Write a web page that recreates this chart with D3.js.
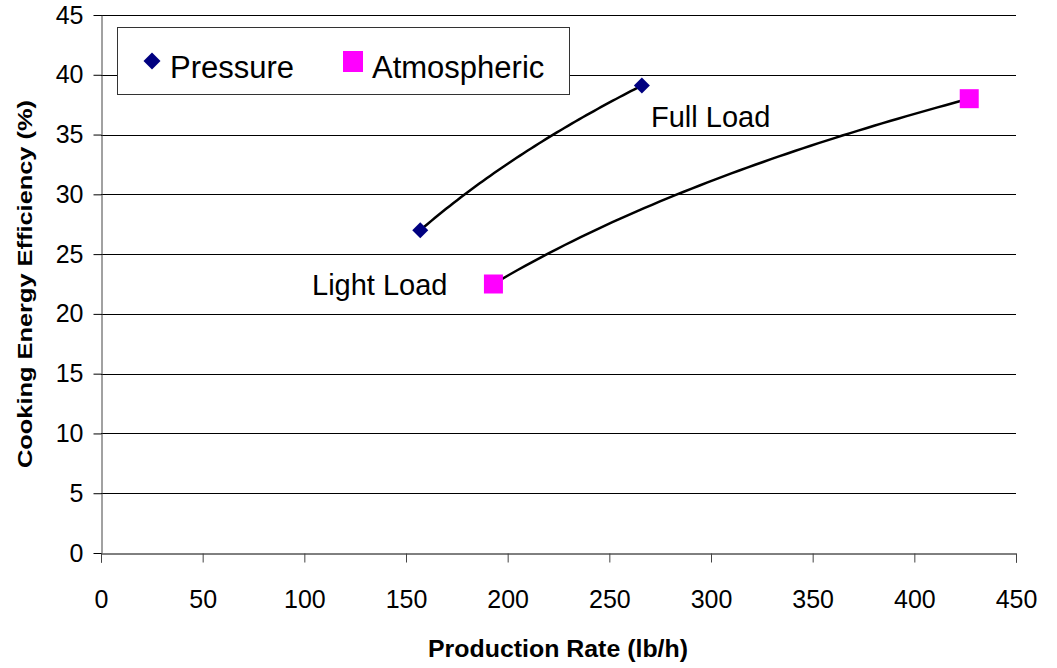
<!DOCTYPE html>
<html>
<head>
  <script src="https://d3js.org/d3.v7.min.js"></script>
  <title>Cooking Energy Efficiency</title>
  <style>
    body { margin: 0; background: #fff; }
    text { font-family: "Liberation Sans", Arial, sans-serif; fill: #000; }
    .tick-label { font-size: 25px; }
    .axis-title { font-weight: bold; }
    .legend-text { font-size: 31px; }
    .note { font-size: 29px; }
  </style>
</head>
<body>
  <div id="chart-container"></div>
<script>
    // data
    var seriesNames = ["Pressure", "Atmospheric"];
    var pressureRate = [157, 266];
    var pressureEff = [27.0, 39.1];
    var atmosRate = [193, 427];
    var atmosEff = [22.5, 38.0];
    var xTicks = [0, 50, 100, 150, 200, 250, 300, 350, 400, 450];
    var yTicks = [0, 5, 10, 15, 20, 25, 30, 35, 40, 45];

    var width = 1057;
    var height = 668;
    var plot = { left: 101, right: 1016, top: 15, bottom: 553 };

    var svg = d3.select("#chart-container")
      .append("svg")
      .attr("width", width)
      .attr("height", height);

    var xScale = d3.scaleLinear()
      .domain([0, 450])
      .range([plot.left, plot.right]);

    var yScale = d3.scaleLinear()
      .domain([0, 45])
      .range([plot.bottom, plot.top]);

    // gridlines
    svg.append("g")
      .selectAll("line")
      .data(yTicks.slice(1))
      .enter().append("line")
      .attr("x1", plot.left)
      .attr("x2", plot.right)
      .attr("y1", function(d) { return Math.round(yScale(d)) + 0.5; })
      .attr("y2", function(d) { return Math.round(yScale(d)) + 0.5; })
      .attr("stroke", "#000")
      .attr("stroke-width", 1);

    // x axis
    var xAxis = d3.axisBottom(xScale)
      .tickValues(xTicks)
      .tickSize(9)
      .tickPadding(28)
      .tickFormat(d3.format("d"));

    var gx = svg.append("g")
      .attr("transform", "translate(0," + (plot.bottom + 0.5) + ")")
      .call(xAxis);
    gx.select(".domain").attr("stroke", "#000");
    gx.selectAll(".tick line").attr("stroke", "#444");
    gx.selectAll(".tick text")
      .attr("class", "tick-label")
      .attr("font-size", null)
      .attr("font-family", null);

    // y axis
    var yAxis = d3.axisLeft(yScale)
      .tickValues(yTicks)
      .tickSize(8)
      .tickSizeOuter(0)
      .tickPadding(10)
      .tickFormat(d3.format("d"));

    var gy = svg.append("g")
      .attr("transform", "translate(" + (plot.left + 0.5) + ",0)")
      .call(yAxis);
    gy.select(".domain").attr("stroke", "#444");
    gy.selectAll(".tick line").attr("stroke", "#000");
    gy.selectAll(".tick text")
      .attr("class", "tick-label")
      .attr("font-size", null)
      .attr("font-family", null);

    // axis titles
    svg.append("text")
      .attr("class", "axis-title")
      .attr("x", 558)
      .attr("y", 657)
      .attr("font-size", 24)
      .attr("text-anchor", "middle")
      .attr("textLength", 260)
      .attr("lengthAdjust", "spacingAndGlyphs")
      .text("Production Rate (lb/h)");

    svg.append("text")
      .attr("class", "axis-title")
      .attr("transform", "translate(32," + 284 + ") rotate(-90)")
      .attr("font-size", 21)
      .attr("text-anchor", "middle")
      .attr("textLength", 368)
      .attr("lengthAdjust", "spacingAndGlyphs")
      .text("Cooking Energy Efficiency (%)");

    // logarithmic trendline through each series
    function logFit(xs, ys) {
      var lx = xs.map(Math.log);
      var mx = d3.mean(lx), my = d3.mean(ys);
      var num = 0, den = 0;
      for (var i = 0; i < xs.length; i++) {
        num += (lx[i] - mx) * (ys[i] - my);
        den += (lx[i] - mx) * (lx[i] - mx);
      }
      var a = num / den;
      var b = my - a * mx;
      var pts = [];
      var x0 = d3.min(xs), x1 = d3.max(xs);
      for (var k = 0; k <= 60; k++) {
        var x = x0 + (x1 - x0) * k / 60;
        pts.push([x, a * Math.log(x) + b]);
      }
      return pts;
    }

    var line = d3.line()
      .x(function(d) { return xScale(d[0]); })
      .y(function(d) { return yScale(d[1]); });

    [[pressureRate, pressureEff], [atmosRate, atmosEff]].forEach(function(s) {
      svg.append("path")
        .attr("d", line(logFit(s[0], s[1])))
        .attr("fill", "none")
        .attr("stroke", "#000")
        .attr("stroke-width", 2.5);
    });

    function diamondPath(r) {
      return "M0," + (-r) + "L" + r + ",0L0," + r + "L" + (-r) + ",0Z";
    }

    // markers
    svg.selectAll(".pt-pressure")
      .data(pressureRate)
      .enter().append("path")
      .attr("class", "pt-pressure")
      .attr("d", diamondPath(8))
      .attr("fill", "#000080")
      .attr("transform", function(d, i) {
        return "translate(" + xScale(d) + "," + yScale(pressureEff[i]) + ")";
      });

    svg.selectAll(".pt-atmos")
      .data(atmosRate)
      .enter().append("rect")
      .attr("class", "pt-atmos")
      .attr("width", 19)
      .attr("height", 19)
      .attr("fill", "#ff00ff")
      .attr("x", function(d) { return xScale(d) - 9.5; })
      .attr("y", function(d, i) { return yScale(atmosEff[i]) - 9.5; });

    // annotations
    svg.append("text")
      .attr("class", "note")
      .attr("x", 651)
      .attr("y", 127)
      .text("Full Load");

    svg.append("text")
      .attr("class", "note")
      .attr("x", 312)
      .attr("y", 295)
      .text("Light Load");

    // legend
    var legend = svg.append("g");
    legend.append("rect")
      .attr("x", 117.5)
      .attr("y", 27.5)
      .attr("width", 452)
      .attr("height", 67)
      .attr("fill", "#fff")
      .attr("stroke", "#333")
      .attr("stroke-width", 1);

    legend.append("path")
      .attr("d", diamondPath(8.5))
      .attr("fill", "#000080")
      .attr("transform", "translate(152,61)");
    legend.append("rect")
      .attr("x", 343)
      .attr("y", 51)
      .attr("width", 20)
      .attr("height", 21)
      .attr("fill", "#ff00ff");

    legend.selectAll(".legend-text")
      .data(seriesNames)
      .enter().append("text")
      .attr("class", "legend-text")
      .attr("x", function(d, i) { return i === 0 ? 170 : 372; })
      .attr("y", 78)
      .text(function(d) { return d; });
</script>
</body>
</html>
